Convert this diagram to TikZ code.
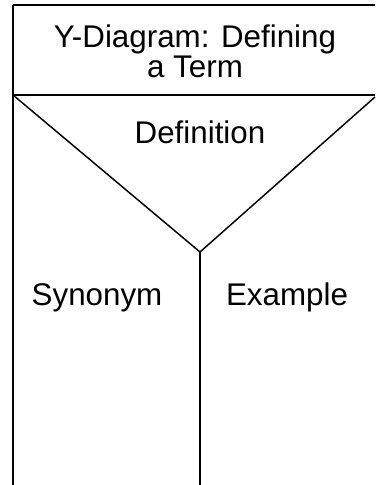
\documentclass[tikz,border=0pt]{standalone}
\usepackage{fontspec}
\setmainfont{Liberation Sans}
\begin{document}
\begin{tikzpicture}[x=0.75pt, y=-0.75pt, line width=1.1pt, font=\fontsize{23.5}{22.5}\selectfont]
\useasboundingbox (0,0) rectangle (375,485);

\coordinate (tl) at (13,5);
\coordinate (tr) at (375,5);
\coordinate (ml) at (13,95);
\coordinate (mr) at (375,95);
\coordinate (dr) at (375,97);
\coordinate (fork) at (200,252);
\coordinate (bl) at (13,485);
\coordinate (bm) at (200,485);

\node[anchor=base, align=center] (title) at (195,78) {Y-Diagram: Defining\\a Term};
\node[anchor=base] (def) at (200,143) {Definition};
\node[anchor=base] (syn) at (97,305) {Synonym};
\node[anchor=base] (ex) at (287,305) {Example};

\draw (tl) -- (tr);
\draw (ml) -- (mr);
\draw (tl) -- (bl);
\draw (ml) -- (fork);
\draw (dr) -- (fork);
\draw (fork) -- (bm);
\end{tikzpicture}
\end{document}
